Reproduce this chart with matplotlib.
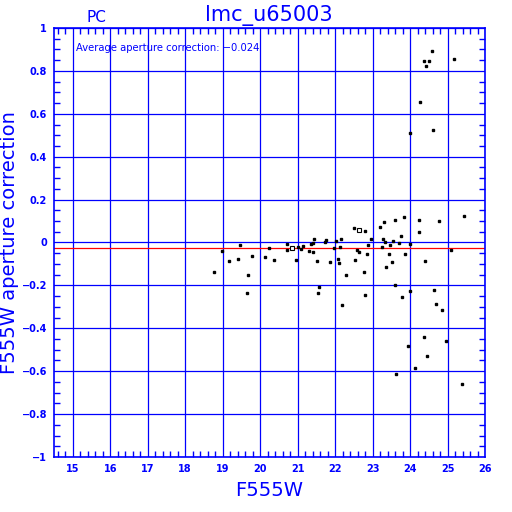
import matplotlib
matplotlib.use("Agg")
import matplotlib.pyplot as plt
from matplotlib.ticker import MultipleLocator

BLUE = "#0000ff"

mag = [18.76, 18.97, 19.16, 19.47, 19.41, 19.78, 19.67, 19.66, 20.23, 20.13,
       20.37, 20.71, 20.72, 21.02, 20.96, 21.09, 21.14, 21.31, 21.36, 21.42,
       21.43, 21.41, 21.52, 21.58, 21.55, 21.74, 21.76, 21.87, 21.97, 22.03,
       22.10, 22.08, 22.13, 22.16, 22.30, 22.18, 22.51, 22.80, 22.54, 22.59,
       22.64, 22.78, 22.81, 22.86, 22.88, 22.96, 23.20, 23.31, 23.60, 23.29,
       23.34, 23.25, 23.46, 23.55, 23.71, 23.44, 23.52, 23.37, 23.61, 24.40,
       23.79, 24.01, 24.65, 24.70, 24.84, 24.36, 24.95, 23.94, 24.46, 24.12,
       23.62, 25.38, 24.59, 24.38, 24.51, 24.43, 25.18, 24.27, 24.62, 24.00,
       23.84, 24.25, 24.76, 25.43, 23.77, 24.23, 24.01, 23.87, 25.10]
corr = [-0.138, -0.041, -0.085, -0.012, -0.077, -0.061, -0.153, -0.234, -0.027, -0.069,
        -0.082, -0.007, -0.035, -0.019, -0.082, -0.029, -0.016, -0.038, -0.009, -0.002,
        0.016, -0.043, -0.086, -0.206, -0.235, 0.001, 0.010, -0.089, -0.026, 0.006,
        -0.096, -0.075, -0.021, 0.015, -0.150, -0.291, 0.066, 0.054, -0.082, -0.035,
        -0.043, -0.139, -0.243, -0.052, -0.013, 0.016, 0.074, 0.097, 0.106, 0.015,
        0.002, -0.019, -0.012, 0.007, -0.004, -0.054, -0.091, -0.114, -0.198, -0.085,
        -0.254, -0.226, -0.220, -0.288, -0.315, -0.442, -0.458, -0.481, -0.529, -0.584,
        -0.612, -0.660, 0.894, 0.846, 0.846, 0.821, 0.855, 0.656, 0.526, 0.509,
        0.120, 0.105, 0.100, 0.125, 0.032, 0.050, -0.006, -0.052, -0.035]
mag_open = [20.86, 22.63]
corr_open = [-0.027, 0.057]
avg_corr = -0.024

fig = plt.figure(figsize=(5.12, 5.12), dpi=100)
ax = fig.add_axes([54/512, 1-457/512, 431/512, 429/512])
ax.set_xlim(14.5, 26)
ax.set_ylim(-1, 1)

ax.xaxis.set_major_locator(MultipleLocator(1))
ax.xaxis.set_minor_locator(MultipleLocator(0.2))
ax.yaxis.set_major_locator(MultipleLocator(0.2))
ax.yaxis.set_minor_locator(MultipleLocator(0.05))
ax.grid(True, which="major", color=BLUE, linewidth=0.9)
for s in ax.spines.values():
    s.set_color(BLUE)
    s.set_linewidth(1.2)
ax.tick_params(which="both", direction="in", top=True, right=True, color=BLUE,
               labelcolor=BLUE, labelsize=7)
ax.tick_params(which="major", length=0)
ax.tick_params(which="minor", length=4, width=1)
for lab in ax.get_xticklabels() + ax.get_yticklabels():
    lab.set_fontweight("bold")

def yfmt(v, pos):
    if abs(v) < 1e-9:
        return "0"
    if abs(abs(v) - 1) < 1e-9:
        return ("%d" % round(v)).replace("-", "\u2212")
    return ("%.1f" % v).replace("-", "\u2212")
ax.yaxis.set_major_formatter(plt.FuncFormatter(yfmt))
ax.xaxis.set_major_formatter(plt.FuncFormatter(lambda v, p: "%d" % round(v)))
ax.tick_params(axis="x", pad=5)
ax.tick_params(axis="y", pad=5)

ax.axhline(avg_corr, color="red", linewidth=0.9, zorder=2)
ax.plot(mag, corr, linestyle="none", marker="s", markersize=1.9, color="black", zorder=3)
ax.plot(mag_open, corr_open, linestyle="none", marker="s", markersize=2.6,
        markerfacecolor="white", markeredgecolor="black", markeredgewidth=0.8, zorder=3)

ax.text(0.051, 0.953, "Average aperture correction: \u22120.024", transform=ax.transAxes,
        color=BLUE, fontsize=7.2, va="center", ha="left")

fig.text(269/512, 1-491/512, "F555W", color=BLUE, fontsize=14, ha="center", va="center")
fig.text(10/512, 1-243/512, "F555W aperture correction", color=BLUE, fontsize=14,
         rotation=90, ha="center", va="center")
fig.text(269/512, 1-16/512, "lmc_u65003", color=BLUE, fontsize=15, ha="center", va="center")
fig.text(96/512, 1-17/512, "PC", color=BLUE, fontsize=11, ha="center", va="center")

fig.savefig("out.png", dpi=100)
